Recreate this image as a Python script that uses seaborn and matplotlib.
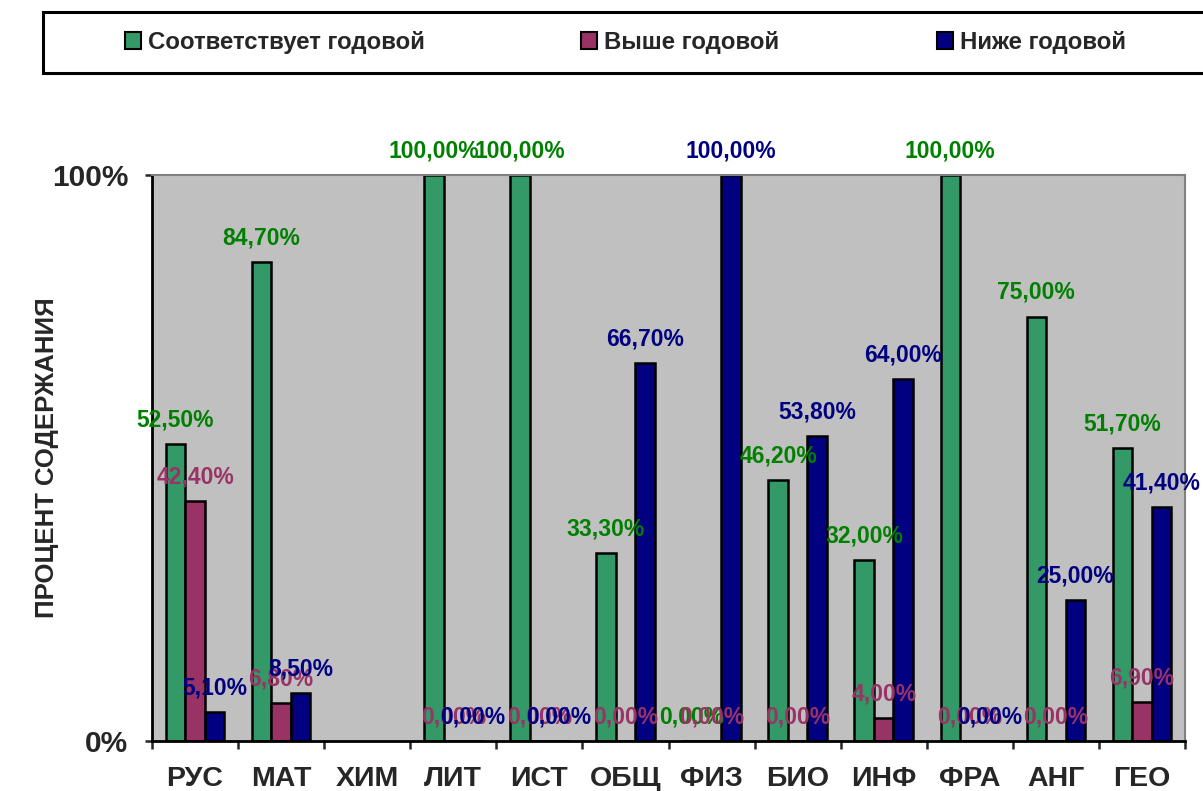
import numpy as np
import pandas as pd
import matplotlib
matplotlib.use("Agg")
import matplotlib.pyplot as plt
from matplotlib.patches import Patch, Rectangle
import seaborn as sns

# =========================================
# ДАННЫЕ
# =========================================

predmety = ["РУС", "МАТ", "ХИМ", "ЛИТ", "ИСТ", "ОБЩ",
            "ФИЗ", "БИО", "ИНФ", "ФРА", "АНГ", "ГЕО"]

serii = ["Соответствует годовой", "Выше годовой", "Ниже годовой"]

sootv = [52.5, 84.7, np.nan, 100.0, 100.0, 33.3, 0.0, 46.2, 32.0, 100.0, 75.0, 51.7]
vyshe = [42.4, 6.8, np.nan, 0.0, 0.0, 0.0, 0.0, 0.0, 4.0, 0.0, 0.0, 6.9]
nizhe = [5.1, 8.5, np.nan, 0.0, 0.0, 66.7, 100.0, 53.8, 64.0, 0.0, 25.0, 41.4]

cvet_stolb = ["#339966", "#993366", "#000080"]
cvet_text = ["#008000", "#993366", "#000080"]

# =========================================
# ТАБЛИЦА
# =========================================

df = pd.DataFrame({
    "Предмет": predmety * 3,
    "Серия": [serii[0]] * 12 + [serii[1]] * 12 + [serii[2]] * 12,
    "Значение": sootv + vyshe + nizhe,
})

# =========================================
# ГРАФИК
# =========================================

sns.set_style("white")
plt.rcParams["font.family"] = ["Liberation Sans", "DejaVu Sans"]
plt.rcParams["font.weight"] = "bold"

fig = plt.figure(figsize=(12.03, 7.91), dpi=100)
ax = fig.add_axes([152 / 1203, 50 / 791, 1033 / 1203, 566 / 791])
ax.set_facecolor("#C0C0C0")

sns.barplot(
    data=df,
    x="Предмет",
    y="Значение",
    hue="Серия",
    order=predmety,
    hue_order=serii,
    palette=cvet_stolb,
    saturation=1,
    edgecolor="black",
    linewidth=1.8,
    width=0.68,
    errorbar=None,
    legend=False,
    ax=ax,
)

# подписи над столбцами
for cont, col in zip(ax.containers, cvet_text):
    for bar in cont:
        h = bar.get_height()
        if np.isnan(h):
            continue
        txt = f"{h:.2f}".replace(".", ",") + "%"
        ax.annotate(
            txt,
            (bar.get_x() + bar.get_width() / 2, h),
            xytext=(0, 9),
            textcoords="offset points",
            ha="center",
            va="bottom",
            color=col,
            fontsize=16.5,
            fontweight="bold",
            annotation_clip=False,
        )

# оси
ax.set_ylim(0, 100)
ax.set_xlim(-0.5, len(predmety) - 0.5)
ax.set_yticks([0, 100])
ax.set_yticklabels(["0%", "100%"], fontsize=21.5, fontweight="bold")
ax.tick_params(axis="y", direction="out", length=5, width=1.8, pad=12, left=True)

ax.set_xticks(range(len(predmety)))
ax.set_xticklabels(predmety, fontsize=20.5, fontweight="bold")
ax.set_xticks(np.arange(-0.5, len(predmety), 1), minor=True)
ax.tick_params(axis="x", which="major", length=0, pad=18)
ax.tick_params(axis="x", which="minor", direction="out", length=6, width=1.8, bottom=True)

ax.set_xlabel("")
ax.set_ylabel("ПРОЦЕНТ СОДЕРЖАНИЯ", fontsize=18.5, fontweight="bold")
ax.yaxis.set_label_coords(-0.09, 0.5)

for s in ["left", "bottom"]:
    ax.spines[s].set_color("black")
    ax.spines[s].set_linewidth(2)
for s in ["top", "right"]:
    ax.spines[s].set_color("#808080")
    ax.spines[s].set_linewidth(1.5)

# =========================================
# ЛЕГЕНДА
# =========================================

fig.patches.append(Rectangle(
    (43 / 1203, 1 - 73 / 791), 1.2, 61 / 791,
    transform=fig.transFigure, facecolor="white",
    edgecolor="black", linewidth=2.2, zorder=0,
))

poz_x = [125, 581, 937]
for nazv, col, px in zip(serii, cvet_stolb, poz_x):
    fig.legend(
        handles=[Patch(facecolor=col, edgecolor="black", linewidth=1.5)],
        labels=[nazv],
        loc="center left",
        bbox_to_anchor=(px / 1203, 1 - 42 / 791),
        frameon=False,
        handlelength=0.65,
        handleheight=0.7,
        handletextpad=0.3,
        borderpad=0,
        borderaxespad=0,
        prop={"weight": "bold", "size": 17.3},
    )

plt.savefig("out.png", dpi=100)
